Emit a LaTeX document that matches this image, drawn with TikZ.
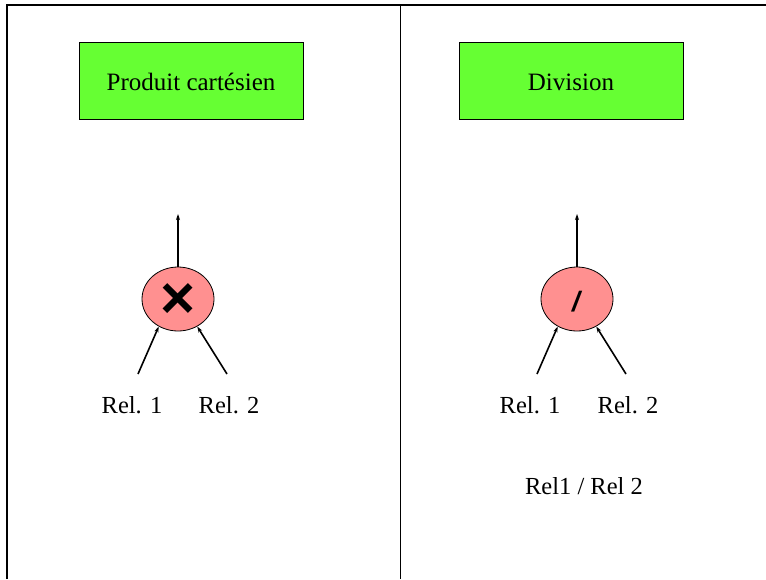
\documentclass[tikz,border=0pt]{standalone}
\usepackage{fontspec}
\setmainfont{Liberation Serif}
\newfontfamily\symfont{Liberation Sans}
\usetikzlibrary{arrows.meta,shapes.geometric}
\definecolor{boxgreen}{RGB}{102,255,51}
\definecolor{opred}{RGB}{255,144,144}
\begin{document}
\begin{tikzpicture}[x=1pt,y=-1pt,
  title/.style={draw=black,line width=0.8pt,fill=boxgreen,minimum width=224pt,minimum height=77pt,inner sep=0pt,text height=17.5pt,text depth=5.5pt,font=\fontsize{25}{27}\selectfont},
  opnode/.style={ellipse,draw=black,line width=0.8pt,fill=opred,minimum width=72pt,minimum height=64pt,inner sep=0pt},
  rel/.style={font=\fontsize{24.5}{27}\selectfont,inner sep=0pt},
  link/.style={line width=1.6pt,-{Stealth[length=6pt,width=4pt]}}]
\useasboundingbox (0,0) rectangle (766,579);
% frame and divider
\draw[line width=2pt] (7,579) -- (7,5) -- (766,5);
\draw[line width=0.8pt] (400,5) -- (400,579);
% left panel
\node[title] (t1) at (191,80.5) {};
\node[font=\fontsize{25}{27}\selectfont,inner sep=0pt,anchor=base] (t1txt) at (191,90) {Produit cartésien};
\node[opnode] (op1) at (178,299) {};
\node[inner sep=0pt] (x1) at (178,301) {\symfont\fontsize{60}{60}\selectfont\bfseries ×};
\coordinate (out1) at (178,214);
\node[rel] (r11) at (132,405) {Rel. 1};
\node[rel] (r12) at (229,405) {Rel. 2};
\coordinate (s11) at (138,374);
\coordinate (s12) at (227,374);
\draw[link] (op1.north) -- (out1);
\draw[link] (s11) -- (op1.-125);
\draw[link] (s12) -- (op1.-55);
% right panel
\node[title] (t2) at (571,80.5) {};
\node[font=\fontsize{25}{27}\selectfont,inner sep=0pt,anchor=base] (t2txt) at (571,90) {Division};
\node[opnode] (op2) at (577,299) {};
\node[inner sep=0pt] (d2) at (576,302) {\symfont\fontsize{28}{28}\selectfont\bfseries\itshape /};
\coordinate (out2) at (577,214);
\node[rel] (r21) at (530,405) {Rel. 1};
\node[rel] (r22) at (628,405) {Rel. 2};
\coordinate (s21) at (537,374);
\coordinate (s22) at (626,374);
\draw[link] (op2.north) -- (out2);
\draw[link] (s21) -- (op2.-125);
\draw[link] (s22) -- (op2.-55);
\node[rel] (res) at (584,486) {Rel1 / Rel 2};
\end{tikzpicture}
\end{document}
